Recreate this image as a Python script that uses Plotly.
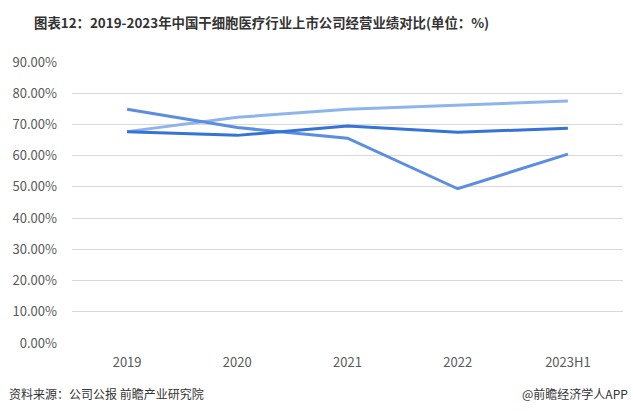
import plotly.graph_objects as go

categories = ["2019", "2020", "2021", "2022", "2023H1"]
series_dark = [67.7, 66.5, 69.5, 67.5, 68.8]
series_mid = [74.9, 69.0, 65.6, 49.4, 60.5]
series_light = [67.7, 72.3, 74.9, 76.3, 77.5]
y_ticks = [0, 10, 20, 30, 40, 50, 60, 70, 80, 90]
y_tick_labels = [f"{v:.2f}%" for v in y_ticks]

title_text = "图表12：2019-2023年中国干细胞医疗行业上市公司经营业绩对比(单位：%)"
source_text = "资料来源：公司公报 前瞻产业研究院"
brand_text = "@前瞻经济学人APP"

FONT = "Noto Sans CJK SC"
W, H = 633, 418
L, R, T, B = 72, 10, 62, 75
PW, PH = W - L - R, H - T - B


def px(x):
    return (x - L) / PW


def py(y):
    return (H - B - y) / PH


fig = go.Figure()
for vals, color in [(series_light, "#8fb4ec"), (series_mid, "#5b8de0"), (series_dark, "#3673d6")]:
    fig.add_trace(go.Scatter(x=categories, y=vals, mode="lines",
                             line=dict(color=color, width=3), showlegend=False,
                             hoverinfo="skip"))

fig.update_layout(
    width=W, height=H,
    margin=dict(l=L, r=R, t=T, b=B),
    paper_bgcolor="white", plot_bgcolor="white",
    font=dict(family=FONT, color="#595959", size=13),
    xaxis=dict(type="category", range=[-0.5, 4.5], showgrid=False, zeroline=False,
               showline=False, ticks="", tickfont=dict(size=13, color="#595959"),
               ticklabelstandoff=10),
    yaxis=dict(range=[0, 90], tickvals=y_ticks, ticktext=y_tick_labels,
               showgrid=True, gridcolor="#d9d9d9", gridwidth=1, zeroline=False,
               showline=False, ticks="", tickfont=dict(size=13, color="#595959"),
               ticklabelstandoff=14),
    annotations=[
        dict(text="<b>" + title_text + "</b>", x=px(261), y=py(22), xref="paper", yref="paper",
             xanchor="center", yanchor="middle",
             showarrow=False, font=dict(size=13.4, color="#333333", family=FONT)),
        dict(text=source_text, x=px(7), y=py(393), xref="paper", yref="paper",
             xanchor="left", yanchor="middle",
             showarrow=False, font=dict(size=12, color="#333333", family=FONT)),
        dict(text=brand_text, x=px(630), y=py(393), xref="paper", yref="paper",
             xanchor="right", yanchor="middle",
             showarrow=False, font=dict(size=12, color="#333333", family=FONT)),
    ],
)

fig.write_html("out.html")
